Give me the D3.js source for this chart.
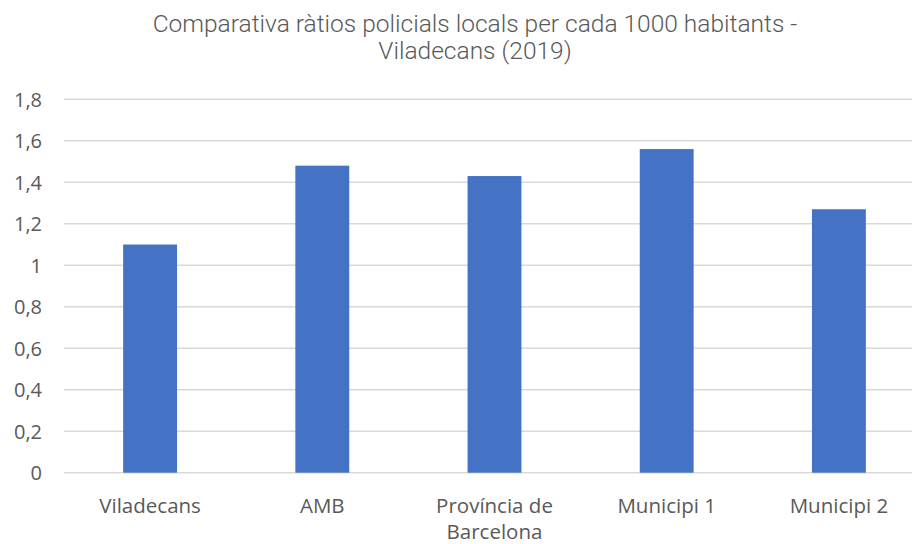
<!DOCTYPE html>
<html><head><meta charset="utf-8">
<script src="https://cdn.jsdelivr.net/npm/d3@7"></script>
<style>body{margin:0;background:#fff;overflow:hidden}svg{display:block}</style>
</head><body>
<svg id="c" width="912" height="544"></svg>
<script>
const categories = [["Viladecans"], ["AMB"], ["Província de", "Barcelona"], ["Municipi 1"], ["Municipi 2"]];
const values = [1.10, 1.48, 1.43, 1.56, 1.27];
const yTicks = [0, 0.2, 0.4, 0.6, 0.8, 1, 1.2, 1.4, 1.6, 1.8];
const titleLines = ["Comparativa ràtios policials locals per cada 1000 habitants -", "Viladecans (2019)"];

const svg = d3.select("#c");
const font = "'Open Sans', sans-serif";
const x = d3.scaleBand().domain(d3.range(values.length)).range([64, 925]).paddingInner(0.687).paddingOuter(0.3435);
const y = d3.scaleLinear().domain([0, 1.8]).range([472.7, 99.3]);

// gridlines
svg.append("g").selectAll("line").data(yTicks).join("line")
  .attr("x1", 64).attr("x2", 912)
  .attr("y1", d => y(d)).attr("y2", d => y(d))
  .attr("stroke", "#d9d9d9").attr("stroke-width", 1.4);

// y axis labels
const yAxis = d3.axisLeft(y).tickValues(yTicks).tickSize(0).tickPadding(0)
  .tickFormat(d => String(+d.toFixed(1)).replace(".", ","));
const ya = svg.append("g").attr("transform", "translate(42,0)").call(yAxis);
ya.select(".domain").remove();
ya.selectAll("text").attr("font-family", font).attr("font-size", 20).attr("fill", "#595959").attr("dy", "0.35em");

// bars
svg.append("g").selectAll("rect").data(values).join("rect")
  .attr("x", (d, i) => x(i)).attr("width", x.bandwidth())
  .attr("y", d => y(d)).attr("height", d => y(0) - y(d))
  .attr("fill", "#4472C4");

// x labels
const xl = svg.append("g").selectAll("text").data(categories).join("text")
  .attr("x", (d, i) => x(i) + x.bandwidth() / 2).attr("y", 513)
  .attr("text-anchor", "middle").attr("font-family", font).attr("font-size", 20.5).attr("fill", "#595959");
xl.selectAll("tspan").data(d => d).join("tspan")
  .attr("x", function() { return this.parentNode.getAttribute("x"); })
  .attr("dy", (d, i) => i ? 26 : 0).text(d => d);

// title
svg.append("g").selectAll("text").data(titleLines).join("text")
  .attr("x", 475).attr("y", (d, i) => 32 + i * 27)
  .attr("text-anchor", "middle").attr("font-family", "Roboto, sans-serif").attr("font-weight", 300)
  .attr("font-size", 24.5).attr("fill", "#595959").text(d => d);
</script>
</body></html>
